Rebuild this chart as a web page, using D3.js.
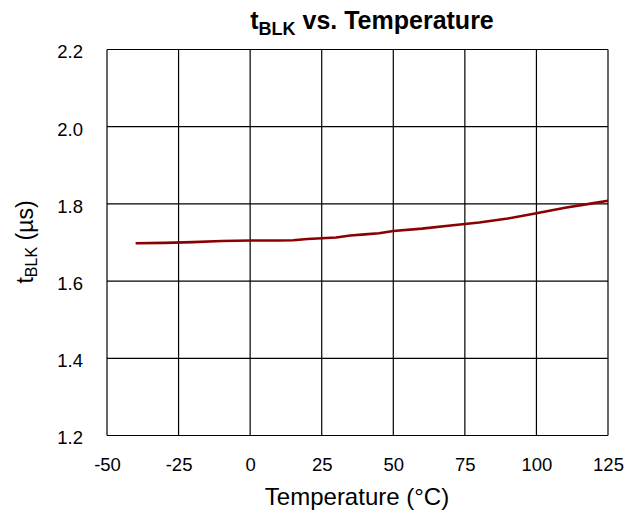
<!DOCTYPE html>
<html>
<head>
<meta charset="utf-8">
<script src="https://cdn.jsdelivr.net/npm/d3@7"></script>
<style>
  html, body { margin: 0; padding: 0; background: #fff; }
  svg { display: block; font-family: Arial, "Liberation Sans", sans-serif; }
</style>
</head>
<body>
<svg id="chart" width="641" height="518"></svg>
<script>
// Blanking time vs. temperature
const temperature = [-40, -30, -20, -10, 0, 10, 15, 20, 25, 30, 35, 40, 45, 50, 60, 70, 75, 80, 90, 100, 110, 120, 125];
const tBlk = [1.698, 1.699, 1.701, 1.704, 1.705, 1.705, 1.706, 1.709, 1.711, 1.713, 1.718, 1.721, 1.724, 1.730, 1.736, 1.744, 1.748, 1.752, 1.762, 1.776, 1.790, 1.802, 1.808];
const xTicks = [-50, -25, 0, 25, 50, 75, 100, 125];
const yTicks = [1.2, 1.4, 1.6, 1.8, 2.0, 2.2];

const svg = d3.select("#chart");
const margin = { left: 107, right: 33, top: 49.5, bottom: 82.5 };
const W = 641, H = 518;

const x = d3.scaleLinear().domain([-50, 125]).range([margin.left, W - margin.right]);
const y = d3.scaleLinear().domain([1.2, 2.2]).range([H - margin.bottom, margin.top]);

// grid
const grid = svg.append("g").attr("stroke", "#000").attr("stroke-width", 1.2);
grid.selectAll("line.v").data(xTicks).join("line")
  .attr("x1", d => x(d)).attr("x2", d => x(d))
  .attr("y1", y(1.2)).attr("y2", y(2.2));
grid.selectAll("line.h").data(yTicks).join("line")
  .attr("x1", x(-50)).attr("x2", x(125))
  .attr("y1", d => y(d)).attr("y2", d => y(d));

// tick labels via d3 axes (no domain/tick lines)
const xAxis = svg.append("g")
  .attr("transform", `translate(0,${y(1.2)})`)
  .call(d3.axisBottom(x).tickValues(xTicks).tickSize(0).tickPadding(22).tickFormat(d => String(d)));
const yAxis = svg.append("g")
  .attr("transform", `translate(${x(-50)},0)`)
  .call(d3.axisLeft(y).tickValues(yTicks).tickSize(0).tickPadding(24).tickFormat(d3.format(".1f")));
[xAxis, yAxis].forEach(a => {
  a.select(".domain").remove();
  a.selectAll("text").attr("font-size", 18.5).attr("fill", "#000")
    .attr("font-family", "Arial, 'Liberation Sans', sans-serif");
});
yAxis.selectAll("text").attr("dy", "0.45em");

// data line
const line = d3.line().x((d, i) => x(temperature[i])).y(d => y(d));
svg.append("path").datum(tBlk)
  .attr("fill", "none").attr("stroke", "#8b0000").attr("stroke-width", 2.6)
  .attr("d", line);

// title
const title = svg.append("text")
  .attr("x", 372).attr("y", 29)
  .attr("text-anchor", "middle").attr("font-size", 25).attr("font-weight", "bold");
title.append("tspan").text("t");
title.append("tspan").attr("font-size", 18).attr("dy", 6).text("BLK");
title.append("tspan").attr("dy", -6).text(" vs. Temperature");

// x axis title
svg.append("text")
  .attr("x", 357).attr("y", 505)
  .attr("text-anchor", "middle").attr("font-size", 24)
  .text("Temperature (°C)");

// y axis title
const yt = svg.append("text")
  .attr("transform", `translate(33,242) rotate(-90)`)
  .attr("text-anchor", "middle").attr("font-size", 23);
yt.append("tspan").text("t");
yt.append("tspan").attr("font-size", 16).attr("dy", 4).text("BLK");
yt.append("tspan").attr("dy", -4).text(" (µs)");
</script>
</body>
</html>
